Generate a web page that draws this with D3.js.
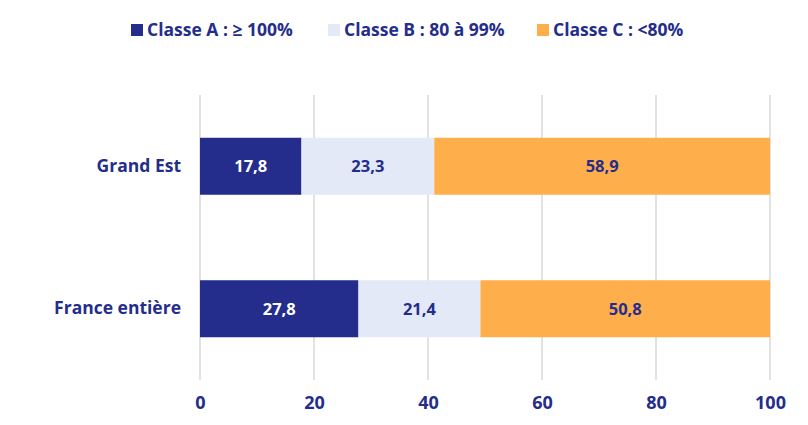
<!DOCTYPE html>
<html>
<head>
<meta charset="utf-8">
<script src="https://cdn.jsdelivr.net/npm/d3@7"></script>
<style>
  body { margin: 0; background: #fff; }
  svg { font-family: "Open Sans", Lato, sans-serif; font-weight: bold; }
</style>
</head>
<body>
<svg id="chart" width="808" height="425"></svg>
<script>
// data
var regions = ["Grand Est", "France entière"];
var classeA = [17.8, 27.8];
var classeB = [23.3, 21.4];
var classeC = [58.9, 50.8];
var seriesNames = ["Classe A : \u2265 100%", "Classe B : 80 à 99%", "Classe C : <80%"];
var xTicks = [0, 20, 40, 60, 80, 100];

var colors = ["#252d8c", "#e3e9f7", "#ffae4c"];
var labelColors = ["#ffffff", "#252d8c", "#252d8c"];
var textColor = "#252d8c";

var svg = d3.select("#chart");

var x = d3.scaleLinear().domain([0, 100]).range([200, 770]);
var y = d3.scaleBand().domain(regions).range([95, 380]).paddingInner(0.6).paddingOuter(0.3);

// build rows for stacking
var rows = regions.map(function(r, i) {
  return { region: r, A: classeA[i], B: classeB[i], C: classeC[i] };
});
var stack = d3.stack().keys(["A", "B", "C"]);
var stacked = stack(rows);

// gridlines
svg.append("g")
  .selectAll("line")
  .data(xTicks)
  .join("line")
  .attr("x1", function(d) { return x(d); })
  .attr("x2", function(d) { return x(d); })
  .attr("y1", 95)
  .attr("y2", 380)
  .attr("stroke", "#d9d9d9")
  .attr("stroke-width", 1.5);

// bars
var layer = svg.append("g")
  .selectAll("g")
  .data(stacked)
  .join("g")
  .attr("fill", function(d, i) { return colors[i]; });

layer.selectAll("rect")
  .data(function(d) { return d; })
  .join("rect")
  .attr("x", function(d) { return x(d[0]); })
  .attr("y", function(d) { return y(d.data.region); })
  .attr("width", function(d) { return x(d[1]) - x(d[0]); })
  .attr("height", y.bandwidth());

// value labels
stacked.forEach(function(s, i) {
  svg.append("g")
    .selectAll("text")
    .data(s)
    .join("text")
    .attr("x", function(d) { return (x(d[0]) + x(d[1])) / 2; })
    .attr("y", function(d) { return y(d.data.region) + y.bandwidth() / 2; })
    .attr("dy", "0.36em")
    .attr("text-anchor", "middle")
    .attr("fill", labelColors[i])
    .style("font-size", "16.5px")
    .text(function(d) { return d3.format(".1f")(d[1] - d[0]).replace(".", ","); });
});

// y axis labels
svg.append("g")
  .attr("transform", "translate(181,0)")
  .call(d3.axisLeft(y).tickSize(0).tickPadding(0))
  .call(function(g) { g.select(".domain").remove(); })
  .selectAll("text")
  .attr("fill", textColor)
  .style("font-size", "17.5px")
  .style("font-family", "'Open Sans', Lato, sans-serif")
  .style("font-weight", "bold");

// x axis
svg.append("g")
  .attr("transform", "translate(0,396)")
  .call(d3.axisBottom(x).tickValues(xTicks).tickSize(0).tickPadding(0))
  .call(function(g) { g.select(".domain").remove(); })
  .selectAll("text")
  .attr("fill", textColor)
  .style("font-size", "18px")
  .style("font-family", "'Open Sans', Lato, sans-serif")
  .style("font-weight", "bold");

// legend
var legendX = [131, 328, 537];
var legend = svg.append("g");
seriesNames.forEach(function(name, i) {
  legend.append("rect")
    .attr("x", legendX[i])
    .attr("y", 24)
    .attr("width", 12)
    .attr("height", 12)
    .attr("fill", colors[i]);
  legend.append("text")
    .attr("x", legendX[i] + 16)
    .attr("y", 30)
    .attr("dy", "0.35em")
    .attr("fill", textColor)
    .style("font-size", "17.5px")
    .text(name);
});
</script>
</body>
</html>
